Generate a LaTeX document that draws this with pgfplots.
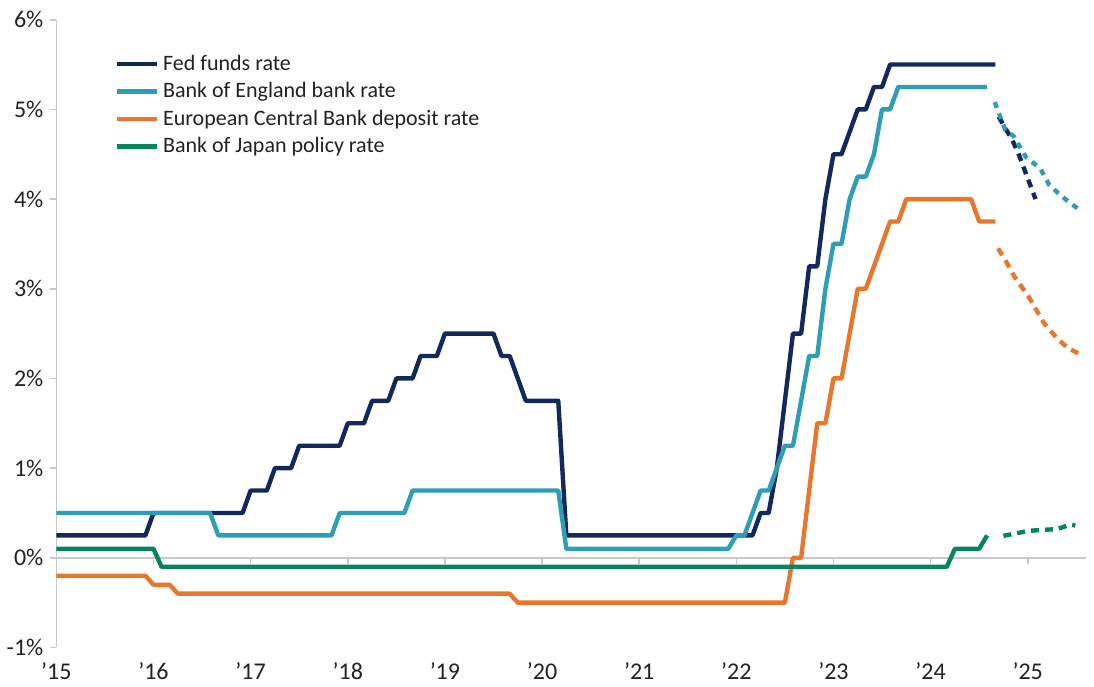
\documentclass[border=0pt]{standalone}
\usepackage{pgfplots}
\pgfplotsset{compat=1.18}
\usepackage{fontspec}
\setmainfont{Carlito}
\definecolor{fedc}{HTML}{14295B}
\definecolor{boec}{HTML}{2E9DB6}
\definecolor{ecbc}{HTML}{E8762C}
\definecolor{bojc}{HTML}{06845A}
\definecolor{axg}{HTML}{C8C8C8}
\definecolor{txt}{HTML}{222222}
\begin{document}
\begin{tikzpicture}
\begin{axis}[
  name=ax,
  scale only axis, width=515pt, height=314pt,
  xmin=2015, xmax=2025.6, ymin=-1, ymax=6,
  axis x line=middle, axis y line=left,
  hide obscured x ticks=false, hide obscured y ticks=false,
  axis line style={-, draw=axg, line width=0.8pt},
  xtick={2015,2016,...,2025},
  xticklabels={’15,’16,’17,’18,’19,’20,’21,’22,’23,’24,’25},
  ytick={-1,0,...,6},
  yticklabels={-1\%,0\%,1\%,2\%,3\%,4\%,5\%,6\%},
  tick style={draw=axg, line width=0.8pt},
  major tick length=3pt,
  tick align=outside,
  xticklabel style={yshift=-46pt},
  ticklabel style={font=\fontsize{12}{14}\selectfont, text=txt},
  legend cell align=left,
  legend style={draw=none, fill=none, at={(0,1)}, anchor=north west, xshift=26pt, yshift=-13.5pt,
    font=\fontsize{11}{13}\selectfont, text=txt, row sep=0.6pt},
  legend image code/.code={\draw[#1, line width=2.2pt] (0pt,0pt) -- (20pt,0pt);},
  every axis plot/.append style={line width=2.2pt, line join=round},
  clip=false,
]
% Fed funds rate
\addplot[fedc] coordinates {
(2015.0,0.25)(2015.917,0.25)(2016.0,0.5)(2016.917,0.5)(2017.0,0.75)(2017.167,0.75)
(2017.25,1.0)(2017.417,1.0)(2017.5,1.25)(2017.917,1.25)(2018.0,1.5)(2018.167,1.5)
(2018.25,1.75)(2018.417,1.75)(2018.5,2.0)(2018.667,2.0)(2018.75,2.25)(2018.917,2.25)
(2019.0,2.5)(2019.5,2.5)(2019.583,2.25)(2019.667,2.25)(2019.75,2.0)(2019.833,1.75)
(2020.167,1.75)(2020.25,0.25)(2022.167,0.25)(2022.25,0.5)(2022.333,0.5)(2022.417,1.0)
(2022.5,1.75)(2022.583,2.5)(2022.667,2.5)(2022.75,3.25)(2022.833,3.25)(2022.917,4.0)
(2023.0,4.5)(2023.083,4.5)(2023.167,4.75)(2023.25,5.0)(2023.333,5.0)(2023.417,5.25)
(2023.5,5.25)(2023.583,5.5)(2024.667,5.5)
};
\addlegendentry{Fed funds rate}
% Bank of England
\addplot[boec] coordinates {
(2015.0,0.5)(2016.583,0.5)(2016.667,0.25)(2017.833,0.25)(2017.917,0.5)(2018.583,0.5)
(2018.667,0.75)(2020.167,0.75)(2020.25,0.1)(2021.917,0.1)(2022.0,0.25)(2022.083,0.25)
(2022.167,0.5)(2022.25,0.75)(2022.333,0.75)(2022.417,1.0)(2022.5,1.25)(2022.583,1.25)
(2022.667,1.75)(2022.75,2.25)(2022.833,2.25)(2022.917,3.0)(2023.0,3.5)(2023.083,3.5)
(2023.167,4.0)(2023.25,4.25)(2023.333,4.25)(2023.417,4.5)(2023.5,5.0)(2023.583,5.0)
(2023.667,5.25)(2024.583,5.25)
};
\addlegendentry{Bank of England bank rate}
% ECB
\addplot[ecbc] coordinates {
(2015.0,-0.2)(2015.917,-0.2)(2016.0,-0.3)(2016.167,-0.3)(2016.25,-0.4)(2019.667,-0.4)
(2019.75,-0.5)(2022.5,-0.5)(2022.583,0)(2022.667,0)(2022.75,0.75)(2022.833,1.5)
(2022.917,1.5)(2023.0,2.0)(2023.083,2.0)(2023.167,2.5)(2023.25,3.0)(2023.333,3.0)
(2023.417,3.25)(2023.5,3.5)(2023.583,3.75)(2023.667,3.75)(2023.75,4.0)(2024.417,4.0)
(2024.5,3.75)(2024.667,3.75)
};
\addlegendentry{European Central Bank deposit rate}
% BoJ
\addplot[bojc] coordinates {
(2015.0,0.1)(2016.0,0.1)(2016.083,-0.1)(2024.167,-0.1)(2024.25,0.1)(2024.5,0.1)(2024.583,0.25)
};
\addlegendentry{Bank of Japan policy rate}
% projections
\addplot[fedc, dash pattern=on 4pt off 3pt, forget plot] coordinates {
(2024.70,4.92)(2024.84,4.66)(2024.90,4.52)(2025.08,4.00)
};
\addplot[boec, dash pattern=on 3pt off 3pt, forget plot] coordinates {
(2024.66,5.08)(2024.77,4.77)(2024.856,4.70)(2024.98,4.47)(2025.13,4.34)(2025.22,4.16)(2025.35,4.03)(2025.52,3.89)
};
\addplot[ecbc, dash pattern=on 4pt off 3pt, forget plot] coordinates {
(2024.695,3.45)(2024.79,3.28)(2024.86,3.14)(2025.01,2.91)(2025.165,2.62)(2025.30,2.45)(2025.41,2.34)(2025.54,2.27)
};
\addplot[bojc, dash pattern=on 4pt off 3pt, forget plot] coordinates {
(2024.75,0.245)(2025.01,0.30)(2025.13,0.31)(2025.30,0.32)(2025.44,0.37)(2025.49,0.36)
};
\end{axis}
\path (ax.south west) ++(-28pt,-19.65pt) rectangle ++(547pt,343.5pt);
\end{tikzpicture}
\end{document}
